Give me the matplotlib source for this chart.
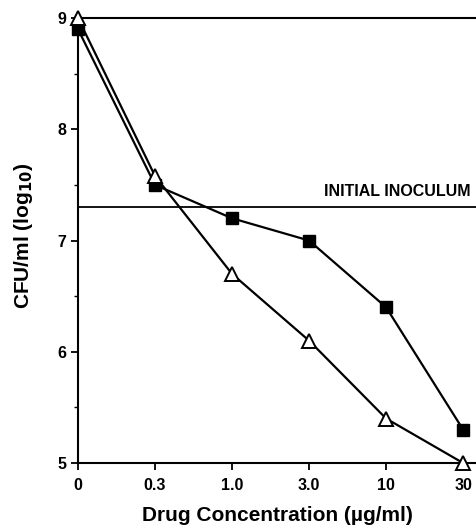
import matplotlib
matplotlib.use("Agg")
import matplotlib.pyplot as plt
from matplotlib.ticker import MultipleLocator

plt.rcParams['font.family'] = ['Liberation Sans', 'DejaVu Sans']

x_labels = ["0", "0.3", "1.0", "3.0", "10", "30"]
squares = [8.9, 7.5, 7.2, 7.0, 6.4, 5.3]
triangles = [9.0, 7.58, 6.7, 6.1, 5.4, 5.0]
inoculum = 7.3
y_ticks = [5, 6, 7, 8, 9]

fig = plt.figure(figsize=(4.77, 5.31), dpi=100)
ax = fig.add_axes([0.1635, 0.128, 0.8365, 0.838])
xs = list(range(len(x_labels)))

ax.axhline(9, color='black', lw=1.5, clip_on=False)
ax.axhline(inoculum, color='black', lw=1.3)
ax.text(5.1, inoculum + 0.07, "INITIAL INOCULUM", ha='right', va='bottom',
        fontsize=11.5, fontweight='heavy')

ax.plot(xs, squares, color='black', lw=1.6, marker='s', ms=8,
        mfc='black', mec='black', clip_on=False, zorder=3)
ax.plot(xs, triangles, color='black', lw=1.6, marker='^', ms=10,
        mfc='white', mec='black', mew=1.4, clip_on=False, zorder=4)

ax.set_xlim(0, 5.18)
ax.set_ylim(5, 9)
ax.set_xticks(xs)
ax.set_xticklabels(x_labels)
ax.set_yticks(y_ticks)
ax.yaxis.set_minor_locator(MultipleLocator(0.5))
for s in ['top', 'right']:
    ax.spines[s].set_visible(False)
ax.spines['left'].set_linewidth(1.5)
ax.spines['bottom'].set_linewidth(1.5)
ax.tick_params(axis='both', which='major', direction='out', length=5, width=1.3,
               labelsize=11.5)
ax.tick_params(axis='x', which='major', pad=6)
ax.tick_params(axis='y', which='minor', direction='out', length=3, width=1.0)
for lab in ax.get_xticklabels() + ax.get_yticklabels():
    lab.set_fontweight('bold')

ax.set_xlabel("Drug Concentration (\u00b5g/ml)", fontsize=15, fontweight='bold', labelpad=9)
ax.set_ylabel("CFU/ml (log$_{\\mathbf{10}}$)", fontsize=15, fontweight='bold')
ax.yaxis.set_label_coords(-0.108, 0.51)

fig.savefig("out.png", dpi=100)
